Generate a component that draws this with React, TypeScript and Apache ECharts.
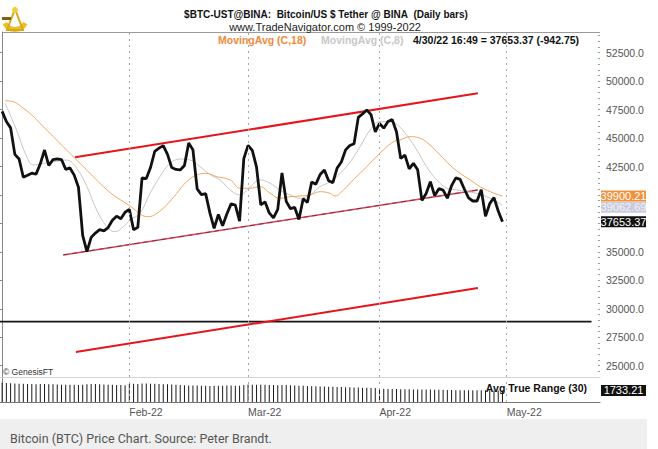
import React, { useEffect, useRef } from 'react';
import * as echarts from 'echarts';

// Daily closes, day 0 = 2 Jan 2022 ... day 118 = 30 Apr 2022
const closes = [
  47345, 46458, 45897, 43569, 43160, 41558, 41733, 41912, 41821, 42735,
  43949, 42591, 43099, 43177, 43113, 42250, 42375, 41744, 40680, 36457,
  35030, 36276, 36654, 36954, 36852, 37138, 37784, 38138, 37917, 38483,
  38743, 36952, 37154, 41500, 41441, 42412, 43841, 44118, 44339, 43565,
  42407, 42244, 42197, 42586, 44575, 43961, 40538, 40030, 40122, 38431,
  37075, 38286, 37296, 38332, 39214, 39105, 37709, 43193, 44354, 43925,
  42452, 39137, 39400, 38420, 37988, 38730, 41941, 39439, 38794, 38904,
  37849, 39666, 39338, 41143, 40951, 41801, 42190, 41247, 41077, 42358,
  42892, 43960, 44348, 44500, 46820, 47128, 47465, 47062, 45538, 46281,
  45868, 46453, 46622, 45555, 43206, 43503, 42287, 42782, 42207, 39521,
  40127, 41166, 39935, 40553, 40424, 39716, 40826, 41503, 41374, 40527,
  39741, 39470, 39470, 40458, 38118, 39242, 39773, 38596, 37653.37,
];

// Avg True Range (30), one bar per day
const atr30 = [
  2930, 2850, 2800, 2760, 2735,
  2720, 2700, 2690, 2680, 2700, 2690, 2670, 2650, 2620, 2600, 2590,
  2580, 2570, 2560, 2600, 2680, 2700, 2690, 2650, 2620, 2600, 2580, 2560, 2540, 2520,
  2700, 2720, 2700, 2780, 2760, 2740, 2720, 2700, 2680, 2650, 2620, 2580, 2540, 2500, 2480, 2470,
  2460, 2440, 2420, 2400, 2420, 2450, 2430, 2480, 2470, 2450, 2430, 2560,
  2620, 2600, 2580, 2600, 2580, 2560, 2540, 2520, 2560, 2540, 2500, 2460, 2430,
  2420, 2400, 2380, 2360, 2340, 2320, 2300, 2280, 2260, 2240, 2220, 2200, 2180, 2160, 2150, 2130, 2110, 2090,
  2000, 1980, 1960, 1950, 1940, 1930, 1920, 1900, 1880, 1870, 1860, 1880, 1870, 1850, 1840,
  1820, 1800, 1790, 1780, 1770, 1760, 1760, 1750, 1750, 1760, 1750, 1740, 1740, 1735, 1733.21,
];

// MovingAvg (C,18): [day, value]
const ma18Points = [
  [0.7, 48280], [2.6, 48200], [5.0, 47620], [7.4, 46880], [9.7, 46000], [12.1, 45120],
  [14.4, 44240], [16.8, 43360], [19.2, 42480], [21.5, 41610], [23.9, 40730], [26.2, 40000],
  [28.6, 39410], [30.9, 38830], [32.9, 38240], [34.5, 38090], [36.5, 38390], [38.8, 39120],
  [41.2, 40150], [43.5, 41170], [45.9, 41760], [48.3, 41900], [50.6, 41610], [53.8, 41320],
  [56.1, 40590], [58.5, 40590], [60.8, 40730], [63.2, 40150], [65.5, 39710], [67.9, 39850],
  [70.3, 39910], [72.6, 40000], [75.0, 40290], [77.3, 40150], [78.5, 39910], [80.5, 40440],
  [82.8, 41320], [85.2, 42190], [87.5, 43070], [89.9, 43950], [92.3, 44680], [93.8, 44830],
  [96.2, 45120], [98.6, 44980], [100.9, 44390], [103.3, 43510], [105.6, 42630], [108.0, 41900],
  [110.4, 41320], [112.7, 40730], [115.1, 40290], [118, 39900.21],
];

// MovingAvg (C,8): [day, value]
const ma8Points = [
  [0.7, 48050], [3.4, 45710], [5.8, 43360], [7.4, 42630], [9.7, 42780], [12.1, 42920],
  [15.2, 43070], [17.6, 42340], [20.0, 40730], [22.3, 38680], [24.7, 37210], [26.6, 36770],
  [28.6, 37210], [30.2, 37800], [32.5, 38390], [34.9, 40150], [37.2, 41610], [39.6, 42780],
  [42.0, 43160], [44.3, 43070], [46.7, 42480], [49.0, 41800], [51.4, 41320], [53.8, 40440],
  [56.1, 40000], [58.5, 40730], [60.8, 41320], [63.2, 41030], [65.5, 40440], [67.9, 40000],
  [70.3, 39710], [72.6, 40000], [75.0, 40730], [77.3, 41150], [79.7, 41900], [82.1, 42900],
  [84.4, 44240], [86.8, 45710], [89.1, 46440], [91.5, 46440], [93.4, 46100], [95.4, 45270],
  [97.8, 43950], [100.1, 42480], [102.5, 41320], [104.9, 40590], [107.2, 40440], [109.6, 40290],
  [111.9, 40150], [114.3, 39850], [116.7, 39410], [118, 39062.69],
];

// Drawn trend lines: [day, value]
const upperChannel = [[17.2, 43310], [112.2, 48930]];
const lowerChannel = [[14.4, 34730], [112.2, 40440]];
const targetChannel = [[17.4, 26200], [112.2, 31830]];
const supportLevel = [[-0.5, 28870], [139, 28870]];

const monthDays = [30, 58, 89, 119];
const monthLabels = ['Feb-22', 'Mar-22', 'Apr-22', 'May-22'];
const priceTickValues = [25000, 27500, 30000, 32500, 35000, 37500, 40000, 42500, 45000, 47500, 50000, 52500];
const priceTickLabels = ['25000.0', '27500.0', '30000.0', '32500.0', '35000.0', '', '', '42500.0', '45000.0', '47500.0', '50000.0', '52500.0'];

const lastClose = 37653.37;
const lastMa18 = 39900.21;
const lastMa8 = 39062.69;
const lastAtr = 1733.21;

const FONT = '"Liberation Sans", Arial, sans-serif';
const X_MIN = -0.5;
const X_MAX = 141;
const Y_MIN = 24007;
const Y_MAX = 54319;

function tag(value: number, text: string, bg: string, fg: string, dy: number, z: number) {
  return {
    symbol: 'rect',
    symbolSize: [45, 11],
    symbolOffset: [23.5, dy],
    silent: true,
    z,
    itemStyle: { color: bg },
    label: { show: true, position: 'inside', formatter: text, color: fg, fontSize: 11, fontFamily: FONT },
    data: [{ coord: [X_MAX, value] }],
  };
}

const monthMarkLine = {
  silent: true,
  symbol: ['none', 'none'],
  label: { show: false },
  lineStyle: { type: [2, 4], color: '#a8a8a8', width: 1 },
  data: monthDays.map((d) => ({ xAxis: d })),
};

export default function App() {
  const ref = useRef<HTMLDivElement>(null);
  useEffect(() => {
    if (!ref.current) return;
    const chart = echarts.init(ref.current, undefined, { renderer: 'svg' });
    const minorTicks: number[] = [];
    for (let v = 24500; v <= 54000; v += 500) minorTicks.push(v);

    const option: any = {
      animation: false,
      backgroundColor: '#ffffff',
      grid: [
        { left: 0, right: 58, top: 32, height: 345, show: false },
        { left: 0, right: 58, top: 378, height: 24, show: false },
      ],
      xAxis: [
        {
          type: 'value', gridIndex: 0, min: X_MIN, max: X_MAX,
          axisLine: { show: true, onZero: false, lineStyle: { color: '#d4d4d4' } },
          axisTick: { show: false }, axisLabel: { show: false }, splitLine: { show: false },
        },
        {
          type: 'value', gridIndex: 1, min: X_MIN, max: X_MAX,
          axisLine: { show: true, onZero: false, lineStyle: { color: '#777' } },
          axisTick: { show: false }, splitLine: { show: false },
          axisLabel: {
            customValues: monthDays,
            formatter: (v: number) => monthLabels[monthDays.indexOf(Math.round(v))] || '',
            align: 'left', color: '#555', fontSize: 10.5, fontFamily: FONT, margin: 4,
          },
        },
      ],
      yAxis: [
        {
          type: 'value', gridIndex: 0, position: 'right', min: Y_MIN, max: Y_MAX,
          axisLine: { show: true, lineStyle: { color: '#888' } },
          axisTick: { show: true, inside: true, length: 4, customValues: priceTickValues, lineStyle: { color: '#888' } },
          axisLabel: {
            customValues: priceTickValues,
            formatter: (v: number) => priceTickLabels[priceTickValues.indexOf(Math.round(v))] || '',
            color: '#555', fontSize: 10.5, fontFamily: FONT, margin: 6,
          },
          splitLine: { show: false },
        },
        {
          type: 'value', gridIndex: 0, position: 'right', min: Y_MIN, max: Y_MAX,
          axisLine: { show: false },
          axisTick: { show: true, inside: true, length: 2, customValues: minorTicks, lineStyle: { color: '#999' } },
          axisLabel: { show: false }, splitLine: { show: false },
        },
        {
          type: 'value', gridIndex: 1, position: 'right', min: 0, max: 3600,
          axisLine: { show: true, lineStyle: { color: '#888' } },
          axisTick: { show: false }, axisLabel: { show: false }, splitLine: { show: false },
        },
      ],
      series: [
        {
          type: 'line', xAxisIndex: 0, yAxisIndex: 0, name: 'MA8', z: 3,
          data: ma8Points, smooth: 0.4, showSymbol: false,
          lineStyle: { color: '#c6c6c6', width: 1 },
          markPoint: tag(lastMa8, '39062.69', '#c9cbdb', '#f2f2f8', 1.5, 6),
        },
        {
          type: 'line', xAxisIndex: 0, yAxisIndex: 0, name: 'MA18', z: 3,
          data: ma18Points, smooth: 0.4, showSymbol: false,
          lineStyle: { color: '#eea760', width: 1 },
          markPoint: tag(lastMa18, '39900.21', '#f2923e', '#ffffff', 0, 7),
        },
        {
          type: 'line', xAxisIndex: 0, yAxisIndex: 0, z: 2,
          data: supportLevel, showSymbol: false,
          lineStyle: { color: '#151515', width: 1.8 },
        },
        {
          type: 'line', xAxisIndex: 0, yAxisIndex: 0, z: 2,
          data: upperChannel, showSymbol: false,
          lineStyle: { color: '#e8141c', width: 2 },
        },
        {
          type: 'line', xAxisIndex: 0, yAxisIndex: 0, z: 2,
          data: lowerChannel, showSymbol: false,
          lineStyle: { color: '#e0405c', width: 1.6 },
        },
        {
          type: 'line', xAxisIndex: 0, yAxisIndex: 0, z: 2,
          data: lowerChannel, showSymbol: false,
          lineStyle: { color: 'rgba(40,40,40,0.55)', width: 1, type: [5, 4] },
        },
        {
          type: 'line', xAxisIndex: 0, yAxisIndex: 0, z: 2,
          data: targetChannel, showSymbol: false,
          lineStyle: { color: '#e8141c', width: 2 },
        },
        {
          type: 'line', xAxisIndex: 0, yAxisIndex: 0, name: 'Close', z: 4,
          data: closes.map((c, i) => [i, c]), showSymbol: false,
          lineStyle: { color: '#111111', width: 2.8 },
          markLine: monthMarkLine,
          markPoint: tag(lastClose, '37653.37', '#111111', '#ffffff', 0, 8),
        },
        {
          type: 'bar', xAxisIndex: 1, yAxisIndex: 2, name: 'ATR',
          data: atr30.map((a, i) => [i, a]), barWidth: 1,
          itemStyle: { color: '#1a1a1a' },
          markLine: monthMarkLine,
          markPoint: tag(lastAtr, '1733.21', '#111111', '#ffffff', 0, 8),
        },
      ],
      graphic: [
        { type: 'line', shape: { x1: 2, y1: 32.5, x2: 600, y2: 32.5 }, style: { stroke: '#9a9a9a', lineWidth: 1 }, silent: true },
        // logo
        {
          type: 'group', x: 0, y: 0, silent: true, children: [
            { type: 'sector', shape: { cx: 15, cy: 18, r: 14, r0: 9, startAngle: Math.PI * 0.15, endAngle: Math.PI * 0.85 }, style: { fill: '#e9bf2a' } },
            { type: 'polygon', shape: { points: [[15, 9], [7, 30], [23, 30]] }, style: { fill: 'none', stroke: '#d8a817', lineWidth: 2 } },
            { type: 'circle', shape: { cx: 15, cy: 10, r: 3 }, style: { fill: '#f2cf3b' } },
            { type: 'rect', shape: { x: 2, y: 17, width: 9, height: 3 }, style: { fill: '#7a6210' } },
          ],
        },
        { type: 'text', x: 326, y: 14, style: { text: '$BTC-UST@BINA:\u00a0 Bitcoin/US $ Tether @ BINA\u00a0 (Daily bars)', fill: '#111', fontSize: 10, fontWeight: 'bold', fontFamily: FONT, align: 'center', verticalAlign: 'middle' } },
        { type: 'text', x: 325, y: 27, style: { text: 'www.TradeNavigator.com © 1999-2022', fill: '#222', fontSize: 11, fontFamily: FONT, align: 'center', verticalAlign: 'middle' } },
        { type: 'text', x: 218, y: 40, style: { text: 'MovingAvg (C,18)', fill: '#f08a3c', fontSize: 10.5, fontWeight: 'bold', fontFamily: FONT, verticalAlign: 'middle' } },
        { type: 'text', x: 321, y: 40, style: { text: 'MovingAvg (C,8)', fill: '#c8c8c8', fontSize: 10.5, fontWeight: 'bold', fontFamily: FONT, verticalAlign: 'middle' } },
        { type: 'text', x: 413, y: 40, style: { text: '4/30/22 16:49 = 37653.37 (-942.75)', fill: '#111', fontSize: 10.5, fontWeight: 'bold', fontFamily: FONT, verticalAlign: 'middle' } },
        { type: 'text', x: 3, y: 371.5, style: { text: '© GenesisFT', fill: '#333', fontSize: 8.5, fontFamily: FONT, verticalAlign: 'middle' } },
        { type: 'text', x: 587, y: 388, style: { text: 'Avg True Range (30)', fill: '#111', fontSize: 10.5, fontWeight: 'bold', fontFamily: FONT, align: 'right', verticalAlign: 'middle' } },
        { type: 'rect', shape: { x: 0, y: 419, width: 647, height: 30 }, style: { fill: '#efefef' }, silent: true },
        { type: 'text', x: 10, y: 438, style: { text: 'Bitcoin (BTC) Price Chart. Source: Peter Brandt.', fill: '#555', fontSize: 12.5, fontFamily: 'Roboto, "Open Sans", sans-serif', verticalAlign: 'middle' } },
      ],
    };
    chart.setOption(option);
    return () => chart.dispose();
  }, []);

  return (
    <div
      ref={ref}
      style={{ position: 'absolute', left: 0, top: 0, width: 658, height: 449 }}
    />
  );
}
